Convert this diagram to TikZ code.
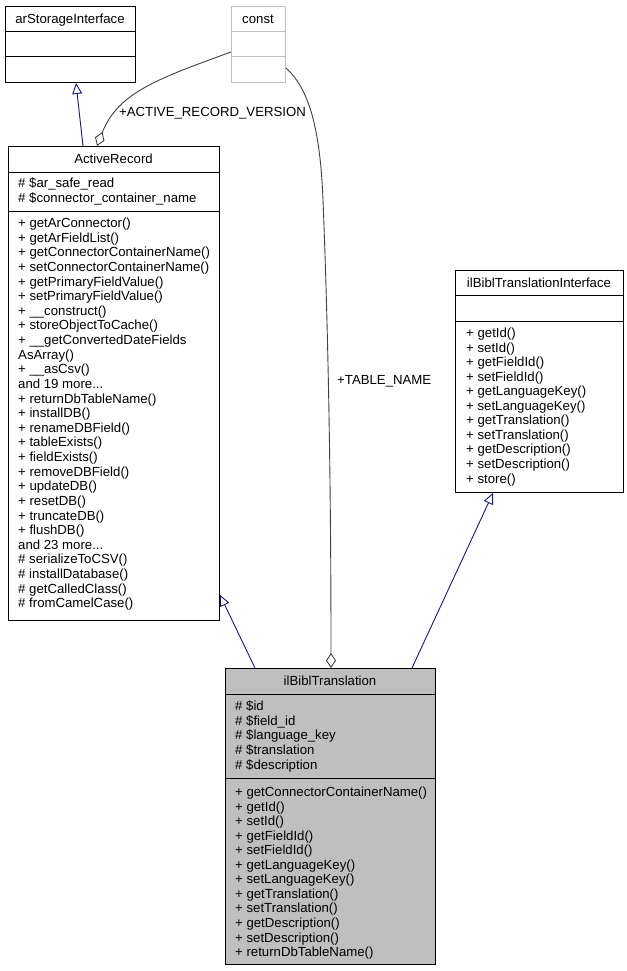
\documentclass[tikz,border=0pt]{standalone}
\usepackage{fontspec}
\setmainfont{Liberation Sans}
\usetikzlibrary{arrows.meta,calc}
\definecolor{edgeblue}{HTML}{191970}
\definecolor{agggray}{HTML}{404040}
\definecolor{lightgr}{HTML}{BFBFBF}
\newcommand\fs{\fontsize{13.2}{14.55}\selectfont}
\newcommand\fsw{\fontsize{13.2}{14.63}\selectfont}
\newcommand\fl{\rule{0pt}{10pt}}
\tikzset{
  classbox/.style={draw=black, line width=1pt, inner sep=0, anchor=north west},
  sepline/.style={draw=black, line width=1pt},
  txt/.style={inner sep=0, align=left, anchor=north west, font=\fs},
  ttl/.style={inner sep=0, anchor=base, font=\fs},
  lbl/.style={inner sep=0, anchor=base west, font=\fs},
  gen/.style={draw=edgeblue, line width=0.9pt, -{Triangle[open, length=11pt, width=10pt]}},
  agg/.style={draw=agggray, line width=0.9pt, -{Diamond[open, length=15pt, width=10pt]}},
}
\begin{document}
\begin{tikzpicture}[x=1pt, y=-1pt]
\useasboundingbox (0,0) rectangle (626,971);
% arStorageInterface
\node[classbox, minimum width=130pt, minimum height=76pt] (ars) at (5,6) {};
\draw[sepline] (ars.west |- 0,32) -- (ars.east |- 0,32);
\draw[sepline] (ars.west |- 0,57) -- (ars.east |- 0,57);
\node[ttl] (arsT) at (70,23.5) {arStorageInterface};
% const
\node[classbox, draw=lightgr, minimum width=54pt, minimum height=76pt] (const) at (231,6) {};
\draw[sepline, draw=lightgr] (const.west |- 0,32) -- (const.east |- 0,32);
\draw[sepline, draw=lightgr] (const.west |- 0,57) -- (const.east |- 0,57);
\node[ttl] (constT) at (258,23.5) {const};
% ActiveRecord
\node[classbox, minimum width=211pt, minimum height=474pt] (ar) at (8,146) {};
\draw[sepline] (ar.west |- 0,172) -- (ar.east |- 0,172);
\draw[sepline] (ar.west |- 0,211) -- (ar.east |- 0,211);
\node[ttl] (arT) at (113.5,163) {ActiveRecord};
\node[txt] (arA) at (18,177.3) {\fl\# \$ar\_safe\_read\\\# \$connector\_container\_name};
\node[txt, font=\fsw] (arM) at (18,217.3) {\fl+ getArConnector()\\
+ getArFieldList()\\
+ getConnectorContainerName()\\
+ setConnectorContainerName()\\
+ getPrimaryFieldValue()\\
+ setPrimaryFieldValue()\\
+ \_\_construct()\\
+ storeObjectToCache()\\
+ \_\_getConvertedDateFields\\
AsArray()\\
+ \_\_asCsv()\\
and 19 more...\\
+ returnDbTableName()\\
+ installDB()\\
+ renameDBField()\\
+ tableExists()\\
+ fieldExists()\\
+ removeDBField()\\
+ updateDB()\\
+ resetDB()\\
+ truncateDB()\\
+ flushDB()\\
and 23 more...\\
\# serializeToCSV()\\
\# installDatabase()\\
\# getCalledClass()\\
\# fromCamelCase()};
% ilBiblTranslationInterface
\node[classbox, minimum width=168pt, minimum height=222pt] (iface) at (455,270) {};
\draw[sepline] (iface.west |- 0,295) -- (iface.east |- 0,295);
\draw[sepline] (iface.west |- 0,321) -- (iface.east |- 0,321);
\node[ttl] (ifaceT) at (539,287) {ilBiblTranslationInterface};
\node[txt] (ifaceM) at (466,327.3) {\fl+ getId()\\
+ setId()\\
+ getFieldId()\\
+ setFieldId()\\
+ getLanguageKey()\\
+ setLanguageKey()\\
+ getTranslation()\\
+ setTranslation()\\
+ getDescription()\\
+ setDescription()\\
+ store()};
% ilBiblTranslation
\node[classbox, fill=lightgr, minimum width=210pt, minimum height=296pt] (ilb) at (225,668) {};
\draw[sepline] (ilb.west |- 0,694) -- (ilb.east |- 0,694);
\draw[sepline] (ilb.west |- 0,778) -- (ilb.east |- 0,778);
\node[ttl] (ilbT) at (330,685) {ilBiblTranslation};
\node[txt] (ilbA) at (235,700.6) {\fl\# \$id\\
\# \$field\_id\\
\# \$language\_key\\
\# \$translation\\
\# \$description};
\node[txt] (ilbM) at (235,786.3) {\fl+ getConnectorContainerName()\\
+ getId()\\
+ setId()\\
+ getFieldId()\\
+ setFieldId()\\
+ getLanguageKey()\\
+ setLanguageKey()\\
+ getTranslation()\\
+ setTranslation()\\
+ getDescription()\\
+ setDescription()\\
+ returnDbTableName()};
% connectors
\draw[gen] (ar.north -| 83,0) -- (ars.south -| 76,0);
\draw[agg] (const.west |- 0,52) .. controls (160,78) and (118,92) .. (ar.north -| 97,0);
\node[lbl] (lblARV) at (119,117) {+ACTIVE\_RECORD\_VERSION};
\draw[agg] (const.east |- 0,68) .. controls (308,88) and (320,125) .. (323,200) .. controls (327,300) and (331,450) .. (ilb.north -| 331,0);
\node[lbl] (lblTN) at (337,384.7) {+TABLE\_NAME};
\draw[gen] (ilb.north -| 255,0) -- (ar.east |- 0,595);
\draw[gen] (ilb.north -| 412,0) -- (iface.south -| 493,0);
\end{tikzpicture}
\end{document}
